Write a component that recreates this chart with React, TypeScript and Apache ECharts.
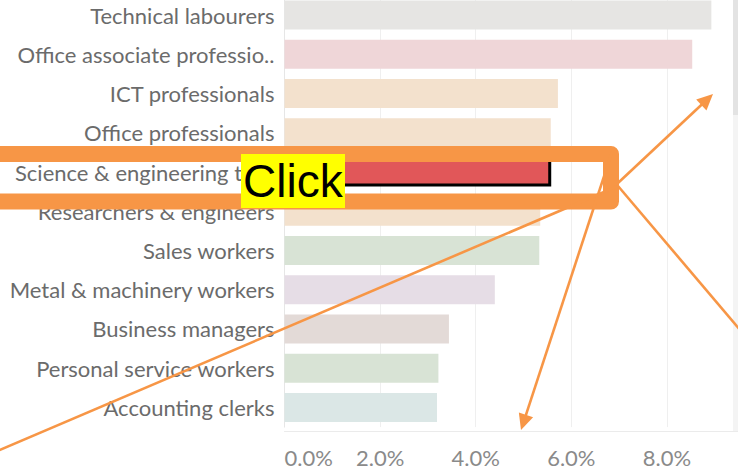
import React, { useEffect, useRef } from 'react';
import * as echarts from 'echarts';

// ---- data ----
const categories = [
  'Technical labourers',
  'Office associate professio..',
  'ICT professionals',
  'Office professionals',
  'Science & engineering tec..',
  'Researchers & engineers',
  'Sales workers',
  'Metal & machinery workers',
  'Business managers',
  'Personal service workers',
  'Accounting clerks',
];
const shares = [8.93, 8.53, 5.72, 5.57, 5.58, 5.35, 5.33, 4.4, 3.44, 3.22, 3.19];
const barColors = [
  '#e6e5e3',
  '#efd6d8',
  '#f3e1cd',
  '#f3e1cd',
  '#e15759',
  '#f3e1cd',
  '#d8e3d5',
  '#e6dde6',
  '#e3dad7',
  '#d8e3d5',
  '#dbe7e6',
];
const highlightedIndex = 4;
const xMin = 0;
const xMax = 10;
const xInterval = 2;
const annotationText = 'Click';

const ORANGE = '#f79646';

function arrow(x1: number, y1: number, x2: number, y2: number, head: boolean) {
  const dx = x2 - x1;
  const dy = y2 - y1;
  const d = Math.sqrt(dx * dx + dy * dy);
  const ux = dx / d;
  const uy = dy / d;
  const len = 16;
  const half = 7.5;
  const els: any[] = [];
  const ex = head ? x2 - ux * len * 0.8 : x2;
  const ey = head ? y2 - uy * len * 0.8 : y2;
  els.push({
    type: 'line',
    z: 110,
    shape: { x1, y1, x2: ex, y2: ey },
    style: { stroke: ORANGE, lineWidth: 2.6 },
  });
  if (head) {
    const bx = x2 - ux * len;
    const by = y2 - uy * len;
    els.push({
      type: 'polygon',
      z: 111,
      shape: {
        points: [
          [x2, y2],
          [bx - uy * half, by + ux * half],
          [bx + uy * half, by - ux * half],
        ],
      },
      style: { fill: ORANGE },
    });
  }
  return els;
}

export default function App() {
  const ref = useRef<HTMLDivElement>(null);
  useEffect(() => {
    if (!ref.current) return;
    const chart = echarts.init(ref.current, null, { renderer: 'svg' });
    const option: any = {
      animation: false,
      grid: {
        left: 284.5,
        right: -24.5,
        top: -4.6,
        bottom: 42.9,
        containLabel: false,
        outerBoundsMode: 'none',
      },
      xAxis: {
        type: 'value',
        min: xMin,
        max: xMax,
        interval: xInterval,
        offset: 4,
        axisLine: { show: true, lineStyle: { color: '#ebebeb', width: 1 } },
        axisTick: { show: false },
        splitLine: { show: true, lineStyle: { color: '#efefef', width: 1 } },
        axisLabel: {
          formatter: (v: number) => v.toFixed(1) + '%',
          alignMinLabel: 'left',
          showMaxLabel: false,
          color: '#8a8a8a',
          fontFamily: 'Lato',
          fontSize: 22,
          margin: 15,
        },
      },
      yAxis: {
        type: 'category',
        data: categories,
        inverse: true,
        axisLine: { show: true, lineStyle: { color: '#e6e6e6', width: 1 } },
        axisTick: { show: false },
        splitLine: { show: false },
        axisLabel: {
          color: '#6b6b6b',
          fontFamily: 'Lato',
          fontSize: 22,
          margin: 10,
        },
      },
      series: [
        {
          type: 'bar',
          barWidth: 29,
          data: shares.map((v, i) => ({
            value: v,
            itemStyle:
              i === highlightedIndex
                ? { color: barColors[i], borderColor: '#000', borderWidth: 3 }
                : { color: barColors[i] },
          })),
        },
      ],
      graphic: [
        // scrollbar
        {
          type: 'rect',
          z: 100,
          shape: { x: 733, y: 0, width: 5, height: 431 },
          style: { fill: '#f4f4f4' },
        },
        {
          type: 'rect',
          z: 101,
          shape: { x: 733, y: 0, width: 5, height: 115 },
          style: { fill: '#e3e3e3' },
        },
        // highlight rounded frame
        {
          type: 'rect',
          z: 105,
          shape: { x: -30, y: 154, width: 641, height: 47.5 },
          style: { fill: 'none', stroke: ORANGE, lineWidth: 16, lineJoin: 'round' },
        },
        // click label
        {
          type: 'rect',
          z: 120,
          shape: { x: 241, y: 154, width: 104, height: 54 },
          style: { fill: '#ffff00' },
        },
        {
          type: 'text',
          z: 121,
          x: 243,
          y: 181,
          style: {
            text: annotationText,
            fill: '#000',
            fontFamily: 'Liberation Sans',
            fontSize: 46,
            verticalAlign: 'middle',
            align: 'left',
          },
        },
        ...arrow(618, 183, 713, 94, true),
        ...arrow(612, 152, 521, 430, true),
        ...arrow(618, 186, 780, 377, false),
        ...arrow(618, 186, -30, 462.7, false),
      ],
    };
    chart.setOption(option);
    return () => chart.dispose();
  }, []);
  return (
    <div
      ref={ref}
      style={{ position: 'absolute', left: 0, top: 0, width: 738, height: 470, background: '#fff' }}
    />
  );
}
